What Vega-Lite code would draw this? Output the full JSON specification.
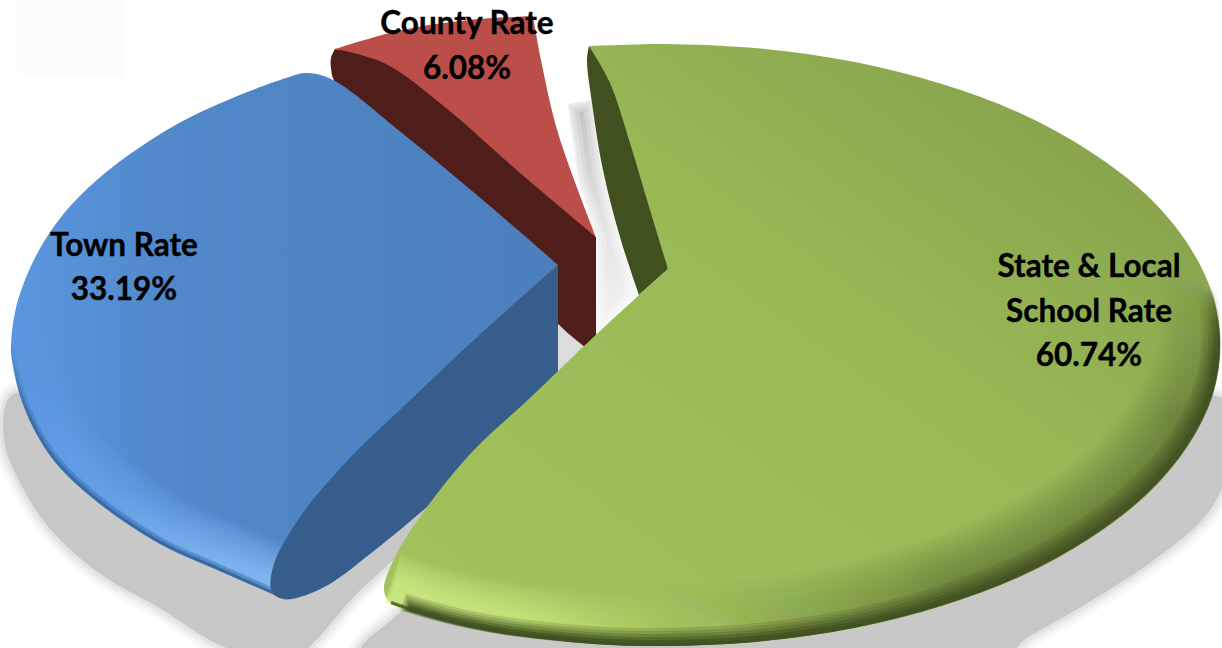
{
  "$schema": "https://vega.github.io/schema/vega-lite/v6.json",
  "width": 1222,
  "height": 648,
  "padding": 0,
  "autosize": "none",
  "background": "white",
  "config": {
    "view": {"stroke": null},
    "style": {
      "softShade": {"color": "#c8c8c8", "interpolate": "catmull-rom", "clip": true},
      "townGlow": {"interpolate": "catmull-rom", "strokeOpacity": 0.11, "color": {"gradient": "linear", "x1": 0, "y1": 0, "x2": 0, "y2": 1, "stops": [{"offset": 0, "color": "rgba(92,154,228,0)"}, {"offset": 0.25, "color": "#5c9ae4"}, {"offset": 0.65, "color": "#6aa6ee"}, {"offset": 1, "color": "#94c8ff"}]}},
      "townEdge": {"interpolate": "catmull-rom", "color": {"gradient": "linear", "x1": 0, "y1": 0, "x2": 0, "y2": 1, "stops": [{"offset": 0, "color": "rgba(46,92,146,0)"}, {"offset": 0.3, "color": "#2e5c92"}, {"offset": 1, "color": "#2e5c92"}]}},
      "stateGlow": {"interpolate": "catmull-rom", "strokeOpacity": 0.09, "color": {"gradient": "linear", "x1": 0, "y1": 0, "x2": 1, "y2": 0, "stops": [{"offset": 0, "color": "#dcf88f"}, {"offset": 0.16, "color": "#d2f084"}, {"offset": 0.36, "color": "rgba(190,220,110,0)"}, {"offset": 1, "color": "rgba(190,220,110,0)"}]}},
      "stateShade": {"interpolate": "catmull-rom", "strokeOpacity": 0.05, "color": {"gradient": "linear", "x1": 0, "y1": 1, "x2": 1, "y2": 0, "stops": [{"offset": 0, "color": "rgba(63,79,32,0)"}, {"offset": 0.2, "color": "rgba(63,79,32,0)"}, {"offset": 0.42, "color": "rgba(63,79,32,0.85)"}, {"offset": 0.78, "color": "rgba(63,79,32,0.85)"}, {"offset": 1, "color": "rgba(63,79,32,0)"}]}},
      "stateEdge": {"interpolate": "catmull-rom", "color": {"gradient": "linear", "x1": 0, "y1": 0, "x2": 0, "y2": 1, "stops": [{"offset": 0, "color": "rgba(63,79,32,0)"}, {"offset": 0.2, "color": "#3f4f20"}, {"offset": 1, "color": "#3f4f20"}]}}
    }
  },
  "datasets": {
    "outlines": [
      {"part":"patch","n":1,"x":17,"y":0},{"part":"patch","n":2,"x":17,"y":78},{"part":"patch","n":3,"x":123,"y":78},{"part":"patch","n":4,"x":123,"y":0},

      {"part":"shadow_town","n":1,"x":100,"y":400},{"part":"shadow_town","n":2,"x":12,"y":395},{"part":"shadow_town","n":3,"x":4,"y":440},{"part":"shadow_town","n":4,"x":24,"y":490},{"part":"shadow_town","n":5,"x":51,"y":530},{"part":"shadow_town","n":6,"x":99,"y":573},{"part":"shadow_town","n":7,"x":158,"y":607},{"part":"shadow_town","n":8,"x":233,"y":650},{"part":"shadow_town","n":9,"x":304,"y":650},{"part":"shadow_town","n":10,"x":316,"y":640},{"part":"shadow_town","n":11,"x":348,"y":603},{"part":"shadow_town","n":12,"x":430,"y":505},{"part":"shadow_town","n":13,"x":300,"y":450},

      {"part":"shadow_state","n":1,"x":800,"y":500},{"part":"shadow_state","n":2,"x":1226,"y":400},{"part":"shadow_state","n":3,"x":1226,"y":473},{"part":"shadow_state","n":4,"x":1208,"y":513},{"part":"shadow_state","n":5,"x":1158,"y":557},{"part":"shadow_state","n":6,"x":1081,"y":607},{"part":"shadow_state","n":7,"x":1024,"y":640},{"part":"shadow_state","n":8,"x":1008,"y":654},{"part":"shadow_state","n":9,"x":360,"y":654},{"part":"shadow_state","n":10,"x":395,"y":617},{"part":"shadow_state","n":11,"x":430,"y":590},{"part":"shadow_state","n":12,"x":600,"y":500},

      {"part":"shadow_gap","n":1,"x":568,"y":104},{"part":"shadow_gap","n":2,"x":592,"y":100},{"part":"shadow_gap","n":3,"x":603,"y":170},{"part":"shadow_gap","n":4,"x":620,"y":237},{"part":"shadow_gap","n":5,"x":639,"y":295},{"part":"shadow_gap","n":6,"x":596,"y":340},{"part":"shadow_gap","n":7,"x":596,"y":237},{"part":"shadow_gap","n":8,"x":578,"y":180},{"part":"shadow_gap","n":9,"x":568,"y":104},
      {"part":"shadow_notch","n":1,"x":556,"y":320},{"part":"shadow_notch","n":2,"x":590,"y":345},{"part":"shadow_notch","n":3,"x":556,"y":378},

      {"part":"county_side","n":1,"x":335,"y":49},{"part":"county_side","n":2,"x":331,"y":58},{"part":"county_side","n":3,"x":331,"y":68},{"part":"county_side","n":4,"x":335,"y":82},{"part":"county_side","n":5,"x":402,"y":140},{"part":"county_side","n":6,"x":491,"y":215},{"part":"county_side","n":7,"x":550,"y":315},{"part":"county_side","n":8,"x":585,"y":347},{"part":"county_side","n":9,"x":585,"y":347},{"part":"county_side","n":10,"x":596,"y":337},{"part":"county_side","n":11,"x":596,"y":337},{"part":"county_side","n":12,"x":596,"y":237},{"part":"county_side","n":13,"x":596,"y":237},{"part":"county_side","n":14,"x":520,"y":165},{"part":"county_side","n":15,"x":446,"y":100},{"part":"county_side","n":16,"x":384,"y":55},

      {"part":"county_face","n":1,"x":335,"y":49},{"part":"county_face","n":2,"x":335,"y":49},{"part":"county_face","n":3,"x":402,"y":30},{"part":"county_face","n":4,"x":469,"y":20},{"part":"county_face","n":5,"x":533,"y":16},{"part":"county_face","n":6,"x":533,"y":16},{"part":"county_face","n":7,"x":541,"y":60},{"part":"county_face","n":8,"x":558,"y":133},{"part":"county_face","n":9,"x":596,"y":237},{"part":"county_face","n":10,"x":596,"y":237},{"part":"county_face","n":11,"x":520,"y":173},{"part":"county_face","n":12,"x":446,"y":108},{"part":"county_face","n":13,"x":384,"y":63},{"part":"county_face","n":14,"x":335,"y":49},{"part":"county_face","n":15,"x":335,"y":49},

      {"part":"town_side","n":1,"x":558,"y":265},{"part":"town_side","n":2,"x":558,"y":265},{"part":"town_side","n":3,"x":558,"y":390},{"part":"town_side","n":4,"x":558,"y":390},{"part":"town_side","n":5,"x":427,"y":507},{"part":"town_side","n":6,"x":375,"y":550},{"part":"town_side","n":7,"x":328,"y":585},{"part":"town_side","n":8,"x":300,"y":597},{"part":"town_side","n":9,"x":283,"y":599},{"part":"town_side","n":10,"x":272,"y":592},{"part":"town_side","n":11,"x":273,"y":567},{"part":"town_side","n":12,"x":300,"y":517},{"part":"town_side","n":13,"x":348,"y":460},{"part":"town_side","n":14,"x":403,"y":407},{"part":"town_side","n":15,"x":474,"y":340},{"part":"town_side","n":16,"x":558,"y":265},{"part":"town_side","n":17,"x":558,"y":265},

      {"part":"town_face","n":1,"x":558,"y":265},{"part":"town_face","n":2,"x":558,"y":265},{"part":"town_face","n":3,"x":491,"y":207},{"part":"town_face","n":4,"x":402,"y":133},{"part":"town_face","n":5,"x":333,"y":80},{"part":"town_face","n":6,"x":308,"y":73},{"part":"town_face","n":7,"x":286,"y":78},{"part":"town_face","n":8,"x":179,"y":123},{"part":"town_face","n":9,"x":89,"y":187},{"part":"town_face","n":10,"x":45,"y":240},{"part":"town_face","n":11,"x":18,"y":300},{"part":"town_face","n":12,"x":11,"y":345},{"part":"town_face","n":13,"x":12,"y":360},{"part":"town_face","n":14,"x":24,"y":407},{"part":"town_face","n":15,"x":51,"y":457},{"part":"town_face","n":16,"x":91,"y":497},{"part":"town_face","n":17,"x":158,"y":543},{"part":"town_face","n":18,"x":217,"y":570},{"part":"town_face","n":19,"x":278,"y":596},{"part":"town_face","n":20,"x":278,"y":596},{"part":"town_face","n":21,"x":330,"y":500},{"part":"town_face","n":22,"x":558,"y":265},

      {"part":"town_rim","n":1,"x":11,"y":345},{"part":"town_rim","n":2,"x":12,"y":360},{"part":"town_rim","n":3,"x":24,"y":407},{"part":"town_rim","n":4,"x":51,"y":457},{"part":"town_rim","n":5,"x":91,"y":497},{"part":"town_rim","n":6,"x":158,"y":543},{"part":"town_rim","n":7,"x":217,"y":570},{"part":"town_rim","n":8,"x":278,"y":597},

      {"part":"state_side","n":1,"x":589,"y":46},{"part":"state_side","n":2,"x":589,"y":46},{"part":"state_side","n":3,"x":587,"y":60},{"part":"state_side","n":4,"x":592,"y":103},{"part":"state_side","n":5,"x":603,"y":170},{"part":"state_side","n":6,"x":620,"y":237},{"part":"state_side","n":7,"x":639,"y":295},{"part":"state_side","n":8,"x":639,"y":295},{"part":"state_side","n":9,"x":668,"y":269},{"part":"state_side","n":10,"x":668,"y":269},{"part":"state_side","n":11,"x":660,"y":210},{"part":"state_side","n":12,"x":640,"y":143},{"part":"state_side","n":13,"x":620,"y":83},

      {"part":"state_face","n":1,"x":589,"y":46},{"part":"state_face","n":2,"x":589,"y":46},{"part":"state_face","n":3,"x":620,"y":45},{"part":"state_face","n":4,"x":665,"y":44},{"part":"state_face","n":5,"x":761,"y":48.6},{"part":"state_face","n":6,"x":855,"y":62},{"part":"state_face","n":7,"x":942,"y":84},{"part":"state_face","n":8,"x":1022,"y":114},{"part":"state_face","n":9,"x":1090,"y":151.5},{"part":"state_face","n":10,"x":1146,"y":194.5},{"part":"state_face","n":11,"x":1186.5,"y":242},{"part":"state_face","n":12,"x":1212,"y":293},{"part":"state_face","n":13,"x":1220,"y":345},{"part":"state_face","n":14,"x":1212,"y":397},{"part":"state_face","n":15,"x":1186.5,"y":448},{"part":"state_face","n":16,"x":1146,"y":495.5},{"part":"state_face","n":17,"x":1090,"y":538.5},{"part":"state_face","n":18,"x":1022,"y":576},{"part":"state_face","n":19,"x":942,"y":606},{"part":"state_face","n":20,"x":855,"y":628},{"part":"state_face","n":21,"x":761,"y":641.4},{"part":"state_face","n":22,"x":665,"y":646},{"part":"state_face","n":23,"x":569,"y":641.4},{"part":"state_face","n":24,"x":514,"y":635},{"part":"state_face","n":25,"x":435,"y":618},{"part":"state_face","n":26,"x":392,"y":604},{"part":"state_face","n":27,"x":384,"y":590},{"part":"state_face","n":28,"x":395,"y":557},{"part":"state_face","n":29,"x":427,"y":507},{"part":"state_face","n":30,"x":474,"y":450},{"part":"state_face","n":31,"x":530,"y":398},{"part":"state_face","n":32,"x":583,"y":347},{"part":"state_face","n":33,"x":639,"y":295},{"part":"state_face","n":34,"x":668,"y":269},{"part":"state_face","n":35,"x":668,"y":269},{"part":"state_face","n":36,"x":650,"y":210},{"part":"state_face","n":37,"x":630,"y":143},{"part":"state_face","n":38,"x":610,"y":83},{"part":"state_face","n":39,"x":589,"y":46},{"part":"state_face","n":40,"x":589,"y":46},

      {"part":"state_rim","n":1,"x":392,"y":604},{"part":"state_rim","n":2,"x":412,"y":611},{"part":"state_rim","n":3,"x":435,"y":618},{"part":"state_rim","n":4,"x":475,"y":628},{"part":"state_rim","n":5,"x":514,"y":635},{"part":"state_rim","n":6,"x":569,"y":641.4},{"part":"state_rim","n":7,"x":617,"y":645},{"part":"state_rim","n":8,"x":665,"y":646},{"part":"state_rim","n":9,"x":761,"y":641.4},{"part":"state_rim","n":10,"x":855,"y":628},{"part":"state_rim","n":11,"x":942,"y":606},{"part":"state_rim","n":12,"x":1022,"y":576},{"part":"state_rim","n":13,"x":1090,"y":538.5},{"part":"state_rim","n":14,"x":1146,"y":495.5},{"part":"state_rim","n":15,"x":1186.5,"y":448},{"part":"state_rim","n":16,"x":1212,"y":397},{"part":"state_rim","n":17,"x":1220,"y":345},{"part":"state_rim","n":18,"x":1212,"y":293}
    ],
    "labels": [
      {"line":"County Rate","x":467,"y":34},
      {"line":"6.08%","x":467,"y":79},
      {"line":"Town Rate","x":124,"y":256},
      {"line":"33.19%","x":124,"y":300},
      {"line":"State & Local","x":1089,"y":277},
      {"line":"School Rate","x":1089,"y":322},
      {"line":"60.74%","x":1089,"y":366}
    ]
  },
  "data": {"name": "outlines"},
  "encoding": {
    "x": {"field": "x", "type": "quantitative", "scale": {"domain": [0, 1222], "nice": false, "zero": false}, "axis": null},
    "y": {"field": "y", "type": "quantitative", "scale": {"domain": [648, 0], "nice": false, "zero": false}, "axis": null},
    "order": {"field": "n", "type": "quantitative"}
  },
  "layer": [
    {"transform":[{"filter":"datum.part==='patch'"}],"mark":{"type":"line","fill":"#fcfcfc","stroke":null}},

    {"transform":[{"filter":"datum.part==='shadow_town'"}],"layer":[
      {"mark":{"type":"line","style":"softShade","fill":"#c8c8c8","strokeOpacity":0.12,"strokeWidth":22}},
      {"mark":{"type":"line","style":"softShade","strokeOpacity":0.2,"strokeWidth":14}},
      {"mark":{"type":"line","style":"softShade","strokeOpacity":0.3,"strokeWidth":7}}
    ]},
    {"transform":[{"filter":"datum.part==='shadow_state'"}],"layer":[
      {"mark":{"type":"line","style":"softShade","fill":"#c8c8c8","strokeOpacity":0.12,"strokeWidth":22}},
      {"mark":{"type":"line","style":"softShade","strokeOpacity":0.2,"strokeWidth":14}},
      {"mark":{"type":"line","style":"softShade","strokeOpacity":0.3,"strokeWidth":7}}
    ]},
    {"transform":[{"filter":"datum.part==='shadow_gap'"}],"layer":[
      {"mark":{"type":"line","stroke":null,"fill":{"gradient":"linear","x1":0,"y1":0,"x2":0.3,"y2":1,"stops":[{"offset":0,"color":"#c0c0c0"},{"offset":0.5,"color":"#dedede"},{"offset":1,"color":"#f2f2f2"}]}}},
      {"mark":{"type":"line","color":"#ffffff","strokeOpacity":0.22,"strokeWidth":20}},
      {"mark":{"type":"line","color":"#ffffff","strokeOpacity":0.3,"strokeWidth":12}},
      {"mark":{"type":"line","color":"#ffffff","strokeOpacity":0.4,"strokeWidth":5}}
    ]},
    {"transform":[{"filter":"datum.part==='shadow_notch'"}],"mark":{"type":"line","stroke":null,"fill":"#dcdcdc"}},

    {"transform":[{"filter":"datum.part==='county_side'"}],"mark":{"type":"line","fill":"#4f1d1a","stroke":null,"interpolate":"catmull-rom"}},
    {"transform":[{"filter":"datum.part==='county_face'"}],"mark":{"type":"line","fill":"#bc4e4a","stroke":null,"interpolate":"catmull-rom"}},

    {"transform":[{"filter":"datum.part==='town_face'"}],"mark":{"type":"line","stroke":null,"interpolate":"catmull-rom","fill":{"gradient":"linear","x1":0,"y1":0,"x2":1,"y2":0,"stops":[{"offset":0,"color":"#5b97e0"},{"offset":0.3,"color":"#5088c9"},{"offset":1,"color":"#4c7fbc"}]}}},
    {"transform":[{"filter":"datum.part==='town_rim'"}],"layer":[
      {"mark":{"type":"line","style":"townGlow","strokeWidth":44,"xOffset":22,"yOffset":-22}},
      {"mark":{"type":"line","style":"townGlow","strokeWidth":41,"xOffset":20.5,"yOffset":-20.5}},
      {"mark":{"type":"line","style":"townGlow","strokeWidth":38,"xOffset":19,"yOffset":-19}},
      {"mark":{"type":"line","style":"townGlow","strokeWidth":35,"xOffset":17.5,"yOffset":-17.5}},
      {"mark":{"type":"line","style":"townGlow","strokeWidth":32,"xOffset":16,"yOffset":-16}},
      {"mark":{"type":"line","style":"townGlow","strokeWidth":29,"xOffset":14.5,"yOffset":-14.5}},
      {"mark":{"type":"line","style":"townGlow","strokeWidth":26,"xOffset":13,"yOffset":-13}},
      {"mark":{"type":"line","style":"townGlow","strokeWidth":23,"xOffset":11.5,"yOffset":-11.5}},
      {"mark":{"type":"line","style":"townGlow","strokeWidth":20,"xOffset":10,"yOffset":-10}},
      {"mark":{"type":"line","style":"townGlow","strokeWidth":17,"xOffset":8.5,"yOffset":-8.5}},
      {"mark":{"type":"line","style":"townGlow","strokeWidth":14,"xOffset":7,"yOffset":-7}},
      {"mark":{"type":"line","style":"townEdge","strokeWidth":6,"strokeOpacity":0.3,"xOffset":2,"yOffset":-3}},
      {"mark":{"type":"line","style":"townEdge","strokeWidth":3,"strokeOpacity":0.6,"xOffset":1,"yOffset":-1.5}}
    ]},
    {"transform":[{"filter":"datum.part==='town_side'"}],"mark":{"type":"line","fill":"#365d8b","stroke":null,"interpolate":"catmull-rom"}},

    {"transform":[{"filter":"datum.part==='state_side'"}],"mark":{"type":"line","fill":"#40501f","stroke":null,"interpolate":"catmull-rom"}},
    {"transform":[{"filter":"datum.part==='state_face'"}],"mark":{"type":"line","stroke":null,"interpolate":"catmull-rom","fill":{"gradient":"linear","x1":0,"y1":1,"x2":1,"y2":0,"stops":[{"offset":0,"color":"#a2c35e"},{"offset":0.55,"color":"#99b956"},{"offset":1,"color":"#7f9a48"}]}}},

    {"transform":[{"filter":"datum.part==='state_rim'"}],"layer":[
      {"mark":{"type":"line","style":"stateGlow","strokeWidth":52,"yOffset":-26}},
      {"mark":{"type":"line","style":"stateGlow","strokeWidth":49,"yOffset":-24.5}},
      {"mark":{"type":"line","style":"stateGlow","strokeWidth":46,"yOffset":-23}},
      {"mark":{"type":"line","style":"stateGlow","strokeWidth":43,"yOffset":-21.5}},
      {"mark":{"type":"line","style":"stateGlow","strokeWidth":40,"yOffset":-20}},
      {"mark":{"type":"line","style":"stateGlow","strokeWidth":37,"yOffset":-18.5}},
      {"mark":{"type":"line","style":"stateGlow","strokeWidth":34,"yOffset":-17}},
      {"mark":{"type":"line","style":"stateGlow","strokeWidth":31,"yOffset":-15.5}},
      {"mark":{"type":"line","style":"stateGlow","strokeWidth":28,"yOffset":-14}},
      {"mark":{"type":"line","style":"stateGlow","strokeWidth":25,"yOffset":-12.5}},
      {"mark":{"type":"line","style":"stateGlow","strokeWidth":22,"yOffset":-11}},

      {"mark":{"type":"line","style":"stateShade","strokeWidth":60,"xOffset":-30,"yOffset":-30}},
      {"mark":{"type":"line","style":"stateShade","strokeWidth":57,"xOffset":-28.5,"yOffset":-28.5}},
      {"mark":{"type":"line","style":"stateShade","strokeWidth":54,"xOffset":-27,"yOffset":-27}},
      {"mark":{"type":"line","style":"stateShade","strokeWidth":51,"xOffset":-25.5,"yOffset":-25.5}},
      {"mark":{"type":"line","style":"stateShade","strokeWidth":48,"xOffset":-24,"yOffset":-24}},
      {"mark":{"type":"line","style":"stateShade","strokeWidth":45,"xOffset":-22.5,"yOffset":-22.5}},
      {"mark":{"type":"line","style":"stateShade","strokeWidth":42,"xOffset":-21,"yOffset":-21}},
      {"mark":{"type":"line","style":"stateShade","strokeWidth":39,"xOffset":-19.5,"yOffset":-19.5}},
      {"mark":{"type":"line","style":"stateShade","strokeWidth":36,"xOffset":-18,"yOffset":-18}},
      {"mark":{"type":"line","style":"stateShade","strokeWidth":33,"xOffset":-16.5,"yOffset":-16.5}},
      {"mark":{"type":"line","style":"stateShade","strokeWidth":30,"xOffset":-15,"yOffset":-15}},
      {"mark":{"type":"line","style":"stateShade","strokeWidth":27,"xOffset":-13.5,"yOffset":-13.5}},
      {"mark":{"type":"line","style":"stateShade","strokeWidth":24,"xOffset":-12,"yOffset":-12}},
      {"mark":{"type":"line","style":"stateShade","strokeWidth":21,"xOffset":-10.5,"yOffset":-10.5}},
      {"mark":{"type":"line","style":"stateShade","strokeWidth":18,"xOffset":-9,"yOffset":-9}}
    ]},
    {"transform":[{"filter":"datum.part==='state_rim' && datum.n >= 2"}],"layer":[
      {"mark":{"type":"line","style":"stateEdge","strokeWidth":18,"strokeOpacity":0.2,"xOffset":-9,"yOffset":-9}},
      {"mark":{"type":"line","style":"stateEdge","strokeWidth":15,"strokeOpacity":0.22,"xOffset":-7.5,"yOffset":-7.5}},
      {"mark":{"type":"line","style":"stateEdge","strokeWidth":12,"strokeOpacity":0.3,"xOffset":-6,"yOffset":-6}},
      {"mark":{"type":"line","style":"stateEdge","strokeWidth":9,"strokeOpacity":0.45,"xOffset":-4.5,"yOffset":-4.5}},
      {"mark":{"type":"line","style":"stateEdge","strokeWidth":6,"strokeOpacity":0.7,"xOffset":-3,"yOffset":-3}}
    ]},
    {"transform":[{"filter":"datum.part==='state_rim'"}],"mark":{"type":"line","style":"stateEdge","strokeWidth":3,"strokeOpacity":0.8,"xOffset":-1,"yOffset":-1.5}},

    {
      "data": {"name": "labels"},
      "mark": {"type": "text", "font": "Lato", "fontWeight": "bold", "fontSize": 31.5, "align": "center", "baseline": "alphabetic", "color": "#000000", "stroke": "#000000", "strokeWidth": 0.4},
      "encoding": {
        "x": {"field": "x", "type": "quantitative"},
        "y": {"field": "y", "type": "quantitative"},
        "text": {"field": "line", "type": "nominal"},
        "order": {"value": null}
      }
    }
  ]
}
